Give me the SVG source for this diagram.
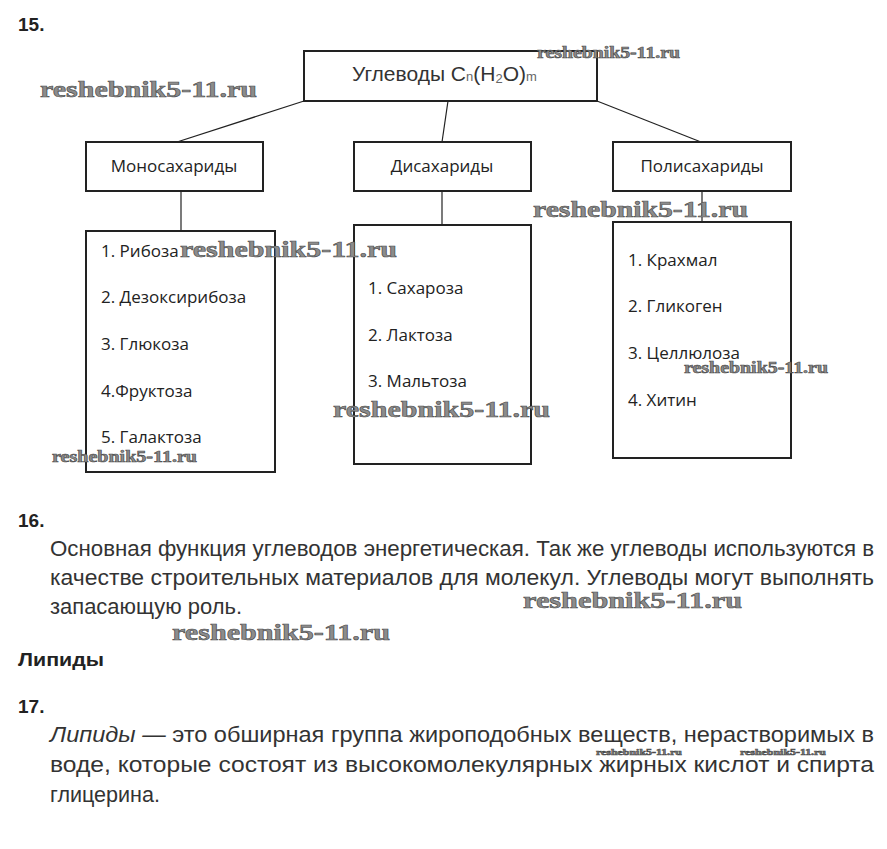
<svg xmlns="http://www.w3.org/2000/svg" width="887" height="849" viewBox="0 0 887 849">
<style>
.box{fill:#fff;stroke:#222;stroke-width:2}
.con{stroke:#222;stroke-width:1.2;fill:none}
.lbl{font-family:"Open Sans","Noto Sans",sans-serif;font-size:17px;fill:#222}
.head{font-family:"Liberation Sans",Arial,sans-serif;font-weight:bold;font-size:19px;fill:#222}
.par{font-family:"Liberation Sans Narrow","Liberation Sans",Arial,sans-serif;font-size:22px;fill:#333}
.wm{font-family:"Liberation Serif","DejaVu Serif",serif;font-weight:bold;fill:#8c8c8c;stroke:#4a4a4a;stroke-width:0.6}
</style>
<rect width="887" height="849" fill="#fff"/>
<text class="head" x="18" y="31">15.</text>
<g id="connectors">
<line class="con" x1="304" y1="101" x2="177" y2="142"/>
<line class="con" x1="448" y1="101" x2="442" y2="142"/>
<line class="con" x1="597" y1="101" x2="701" y2="142"/>
<line class="con" x1="181" y1="191" x2="181" y2="231"/>
<line class="con" x1="442" y1="191" x2="442" y2="225"/>
<line class="con" x1="702" y1="191" x2="702" y2="222"/>
</g>
<g id="root">
<rect class="box" x="304" y="51" width="293" height="50"/>
<text x="352" y="81" font-family="Liberation Sans,Arial,sans-serif" font-size="21" fill="#333">Углеводы C<tspan font-size="13" fill="#666">n</tspan>(H<tspan font-size="13" fill="#666" dy="2">2</tspan><tspan dy="-2">O)</tspan><tspan font-size="13" fill="#666">m</tspan></text>
</g>
<g id="mono">
<rect class="box" x="86" y="142" width="177" height="49"/>
<text class="lbl" x="174" y="172" text-anchor="middle">Моносахариды</text>
</g>
<g id="di">
<rect class="box" x="354" y="142" width="177" height="49"/>
<text class="lbl" x="442" y="172" text-anchor="middle">Дисахариды</text>
</g>
<g id="poly">
<rect class="box" x="613" y="142" width="178" height="49"/>
<text class="lbl" x="702" y="172" text-anchor="middle">Полисахариды</text>
</g>
<g id="mono-list">
<rect class="box" x="86" y="231" width="189" height="241"/>
<text class="lbl" x="101" y="257">1. Рибоза</text>
<text class="lbl" x="101" y="303">2. Дезоксирибоза</text>
<text class="lbl" x="101" y="350">3. Глюкоза</text>
<text class="lbl" x="101" y="397">4.Фруктоза</text>
<text class="lbl" x="101" y="443">5. Галактоза</text>
</g>
<g id="di-list">
<rect class="box" x="354" y="225" width="177" height="239"/>
<text class="lbl" x="368" y="294">1. Сахароза</text>
<text class="lbl" x="368" y="341">2. Лактоза</text>
<text class="lbl" x="368" y="387">3. Мальтоза</text>
</g>
<g id="poly-list">
<rect class="box" x="613" y="222" width="178" height="236"/>
<text class="lbl" x="628" y="266">1. Крахмал</text>
<text class="lbl" x="628" y="312">2. Гликоген</text>
<text class="lbl" x="628" y="359">3. Целлюлоза</text>
<text class="lbl" x="628" y="406">4. Хитин</text>
</g>
<text class="head" x="18" y="527" font-size="20">16.</text>
<text class="par" x="50" y="556" textLength="824" lengthAdjust="spacingAndGlyphs">Основная функция углеводов энергетическая. Так же углеводы используются в</text>
<text class="par" x="50" y="585" textLength="824" lengthAdjust="spacingAndGlyphs">качестве строительных материалов для молекул. Углеводы могут выполнять</text>
<text class="par" x="50" y="614" textLength="192" lengthAdjust="spacingAndGlyphs">запасающую роль.</text>
<text class="head" x="18" y="666" font-size="20" textLength="86" lengthAdjust="spacingAndGlyphs">Липиды</text>
<text class="head" x="18" y="713" font-size="20">17.</text>
<text class="par" x="50" y="742" textLength="824" lengthAdjust="spacingAndGlyphs"><tspan font-style="italic">Липиды —</tspan>  это обширная группа жироподобных веществ, нерастворимых в</text>
<text class="par" x="50" y="772" textLength="824" lengthAdjust="spacingAndGlyphs">воде, которые состоят из высокомолекулярных жирных кислот и спирта</text>
<text class="par" x="50" y="802" textLength="110" lengthAdjust="spacingAndGlyphs">глицерина.</text>
<g id="watermarks">
<text class="wm" x="40" y="97" font-size="24" textLength="217" lengthAdjust="spacingAndGlyphs">reshebnik5-11.ru</text>
<text class="wm" x="537" y="58" font-size="16" textLength="143" lengthAdjust="spacingAndGlyphs">reshebnik5-11.ru</text>
<text class="wm" x="180" y="257" font-size="24" textLength="217" lengthAdjust="spacingAndGlyphs">reshebnik5-11.ru</text>
<text class="wm" x="533" y="217" font-size="24" textLength="215" lengthAdjust="spacingAndGlyphs">reshebnik5-11.ru</text>
<text class="wm" x="684" y="373" font-size="16" textLength="144" lengthAdjust="spacingAndGlyphs">reshebnik5-11.ru</text>
<text class="wm" x="333" y="417" font-size="24" textLength="217" lengthAdjust="spacingAndGlyphs">reshebnik5-11.ru</text>
<text class="wm" x="52" y="462" font-size="16" textLength="145" lengthAdjust="spacingAndGlyphs">reshebnik5-11.ru</text>
<text class="wm" x="523" y="608" font-size="24" textLength="219" lengthAdjust="spacingAndGlyphs">reshebnik5-11.ru</text>
<text class="wm" x="172" y="640" font-size="24" textLength="218" lengthAdjust="spacingAndGlyphs">reshebnik5-11.ru</text>
<text class="wm" x="596" y="755" font-size="9" textLength="86" lengthAdjust="spacingAndGlyphs" stroke-width="0.3">reshebnik5-11.ru</text>
<text class="wm" x="740" y="755" font-size="9" textLength="86" lengthAdjust="spacingAndGlyphs" stroke-width="0.3">reshebnik5-11.ru</text>
</g>
</svg>
